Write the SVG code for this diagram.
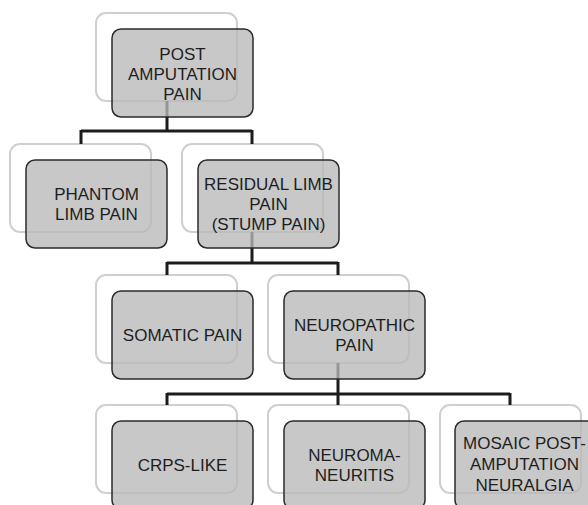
<svg xmlns="http://www.w3.org/2000/svg" width="588" height="505" viewBox="0 0 588 505">
<defs>
<style>
.back{fill:#ffffff;stroke:#cfcfcf;stroke-width:2}
.front{fill:#b9b9b9;fill-opacity:0.78;stroke:#2a2a2a;stroke-width:1.5}
.conn{fill:none;stroke:#1c1c1c;stroke-width:3}
text{font-family:"Liberation Sans",Arial,sans-serif;font-size:17px;fill:#1e1e1e;text-anchor:middle}
</style>
</defs>
<rect width="588" height="505" fill="#ffffff"/>
<g id="backs">
<rect class="back" x="96" y="13" width="141" height="88" rx="10"/>
<rect class="back" x="10" y="144" width="141" height="88" rx="10"/>
<rect class="back" x="182" y="144" width="141" height="88" rx="10"/>
<rect class="back" x="96" y="275" width="141" height="88" rx="10"/>
<rect class="back" x="268" y="275" width="141" height="88" rx="10"/>
<rect class="back" x="96" y="405" width="141" height="88" rx="10"/>
<rect class="back" x="268" y="405" width="141" height="88" rx="10"/>
<rect class="back" x="440" y="405" width="141" height="88" rx="10"/>
</g>
<g id="connectors">
<path class="conn" d="M167,101 V131 M81,131 H252 M81,130 V144 M252,130 V144"/>
<path class="conn" d="M252,232 V263 M167,263 H338 M167,262 V275 M338,262 V275"/>
<path class="conn" d="M338,363 V394 M167,394 H510 M167,393 V405 M338,393 V405 M510,393 V405"/>
</g>
<g id="post-amputation-pain">
<rect class="front" x="112" y="29" width="141" height="88" rx="9"/>
<text x="182.5" y="60">POST</text>
<text x="182.5" y="80">AMPUTATION</text>
<text x="182.5" y="100">PAIN</text>
</g>
<g id="phantom-limb-pain">
<rect class="front" x="26" y="160" width="141" height="88" rx="9"/>
<text x="96.5" y="200">PHANTOM</text>
<text x="96.5" y="220">LIMB PAIN</text>
</g>
<g id="residual-limb-pain">
<rect class="front" x="198" y="160" width="141" height="88" rx="9"/>
<text x="268.5" y="190">RESIDUAL LIMB</text>
<text x="268.5" y="210">PAIN</text>
<text x="268.5" y="230">(STUMP PAIN)</text>
</g>
<g id="somatic-pain">
<rect class="front" x="112" y="291" width="141" height="88" rx="9"/>
<text x="182.5" y="341">SOMATIC PAIN</text>
</g>
<g id="neuropathic-pain">
<rect class="front" x="284" y="291" width="141" height="88" rx="9"/>
<text x="354.5" y="331">NEUROPATHIC</text>
<text x="354.5" y="351">PAIN</text>
</g>
<g id="crps-like">
<rect class="front" x="112" y="421" width="141" height="88" rx="9"/>
<text x="182.5" y="471">CRPS-LIKE</text>
</g>
<g id="neuroma-neuritis">
<rect class="front" x="284" y="421" width="141" height="88" rx="9"/>
<text x="354.5" y="461">NEUROMA-</text>
<text x="354.5" y="481">NEURITIS</text>
</g>
<g id="mosaic-post-amputation-neuralgia">
<rect class="front" x="455" y="421" width="141" height="88" rx="9"/>
<text x="524.5" y="449">MOSAIC POST-</text>
<text x="524.5" y="470">AMPUTATION</text>
<text x="524.5" y="491">NEURALGIA</text>
</g>
</svg>
